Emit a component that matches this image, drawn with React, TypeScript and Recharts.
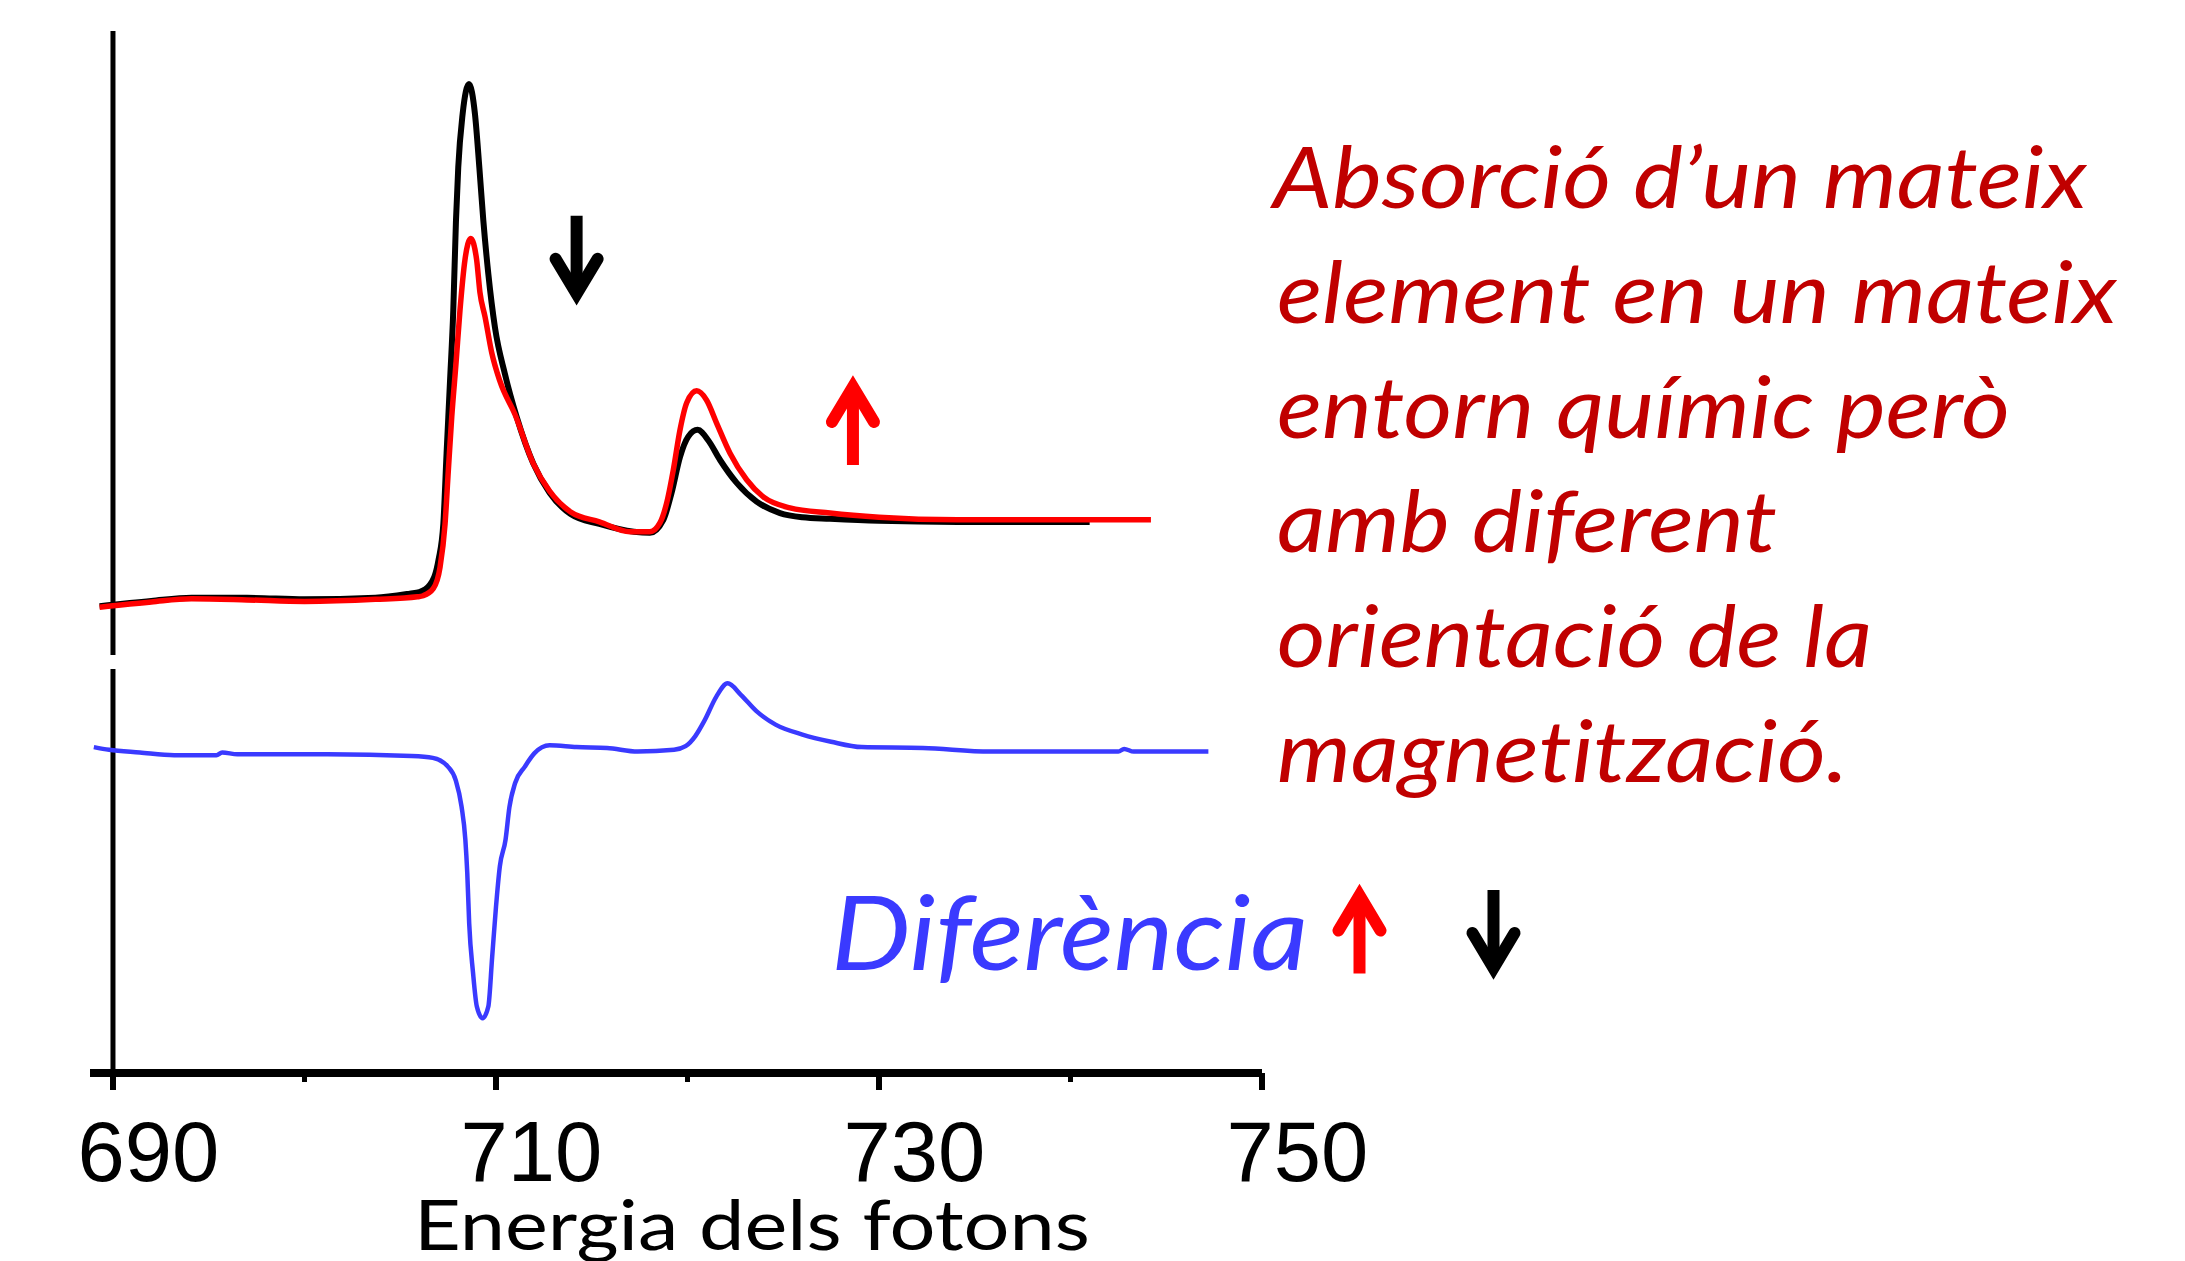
import React from 'react';
import { LineChart, Line, XAxis, YAxis, ReferenceLine, ReferenceDot } from 'recharts';

// ---------- data (photon energy in eV, absorption in arbitrary units) ----------
const blackEnergy = [689.3, 692.0, 694.1, 697.0, 700.0, 703.7, 705.5, 706.0, 706.55, 707.0, 707.25, 707.42, 707.6, 707.77, 707.91, 708.03, 708.26, 708.59, 708.9, 709.13, 709.34, 709.6, 709.95, 710.47, 711.08, 711.95, 712.8, 713.9, 715.4, 717.2, 718.04, 718.74, 719.17, 719.61, 720.04, 720.53, 721.08, 721.7, 722.57, 723.61, 724.83, 726.0, 727.44, 730.0, 734.1, 741.0];
const blackValues = [-0.006, 0.004, 0.010, 0.010, 0.007, 0.010, 0.018, 0.021, 0.035, 0.083, 0.152, 0.288, 0.427, 0.563, 0.735, 0.838, 0.941, 0.998, 0.941, 0.838, 0.735, 0.633, 0.529, 0.440, 0.358, 0.268, 0.212, 0.171, 0.152, 0.137, 0.135, 0.160, 0.212, 0.281, 0.320, 0.333, 0.313, 0.275, 0.231, 0.195, 0.173, 0.165, 0.162, 0.158, 0.156, 0.156];

const redEnergy = [689.3, 692.0, 694.1, 697.0, 700.0, 703.7, 705.9, 706.2, 706.73, 707.08, 707.34, 707.51, 707.69, 707.91, 708.12, 708.38, 708.68, 708.99, 709.16, 709.43, 709.78, 710.2, 711.0, 711.95, 712.8, 713.9, 715.4, 717.0, 718.04, 718.56, 718.91, 719.26, 719.61, 719.96, 720.48, 721.0, 721.52, 722.22, 723.09, 723.96, 725.35, 727.44, 730.0, 734.1, 744.2];
const redValues = [-0.008, 0.002, 0.008, 0.006, 0.003, 0.007, 0.012, 0.014, 0.028, 0.069, 0.152, 0.254, 0.358, 0.460, 0.563, 0.660, 0.701, 0.660, 0.598, 0.550, 0.481, 0.427, 0.362, 0.268, 0.215, 0.175, 0.156, 0.137, 0.137, 0.154, 0.192, 0.256, 0.333, 0.385, 0.408, 0.390, 0.346, 0.288, 0.237, 0.204, 0.183, 0.173, 0.165, 0.160, 0.160];

const diffEnergy = [689.0, 689.8, 691.4, 693.2, 695.4, 695.7, 696.5, 701.2, 705.6, 706.7, 707.5, 707.9, 708.2, 708.4, 708.5, 708.6, 708.8, 709.0, 709.3, 709.6, 709.8, 710.0, 710.2, 710.5, 710.7, 711.0, 711.5, 712.0, 712.8, 714.2, 715.8, 717.4, 719.3, 719.9, 720.4, 720.9, 721.5, 722.1, 722.8, 723.6, 724.6, 726.0, 727.5, 729.1, 732.3, 735.8, 742.5, 742.8, 743.3, 747.2];
const diffValues = [0.003, 0.000, -0.003, -0.006, -0.006, -0.003, -0.005, -0.005, -0.007, -0.009, -0.019, -0.034, -0.063, -0.100, -0.137, -0.193, -0.248, -0.286, -0.299, -0.286, -0.231, -0.175, -0.130, -0.100, -0.064, -0.037, -0.019, -0.004, 0.005, 0.003, 0.002, -0.002, 0.000, 0.004, 0.015, 0.033, 0.059, 0.074, 0.061, 0.043, 0.028, 0.017, 0.009, 0.003, 0.002, -0.002, -0.002, 0.001, -0.002, -0.002];

const xTicks = [690, 700, 710, 720, 730, 740, 750];
const majorTicks = [690, 710, 730, 750];
const xDomain: [number, number] = [688.8, 750];

const noteLines = ['Absorció d’un mateix', 'element en un mateix', 'entorn químic però', 'amb diferent', 'orientació de la', 'magnetització.'];
const diffLabel = 'Diferència';
const xTitle = 'Energia dels fotons';

// annotation arrows inside the spectra panel (data coordinates)
const spectraArrows = [
  { e: 714.21, v: 0.657, dir: 'down', color: '#000000' },
  { e: 728.64, v: 0.353, dir: 'up', color: '#FF0000' },
];

const toRows = (xs: number[], ys: number[]) => xs.map((e, i) => ({ e, v: ys[i] }));
const blackData = toRows(blackEnergy, blackValues);
const redData = toRows(redEnergy, redValues);
const diffData = toRows(diffEnergy, diffValues);

// ---------- layout ----------
const W = 2185;
const H = 1261;
const LEFT = 90;
const RIGHT = 923;
const BLUE = '#3A3AFF';
const DARKRED = '#C00000';
const NOTE_WIDTHS = [814, 840, 733, 500, 595, 571];

const Arrow = ({ cx, cy, dir, color }: { cx: number; cy: number; dir: string; color: string }) => {
  const L = 45.5;
  const s = dir === 'down' ? 1 : -1;
  const tipBase = cy + s * (L - 13);
  const barbY = cy + s * (L - 48);
  return (
    <g>
      <line x1={cx} x2={cx} y1={cy - s * L} y2={cy + s * (L - 16)} stroke={color} strokeWidth={12} />
      <polyline
        points={`${cx - 21},${barbY} ${cx},${tipBase} ${cx + 21},${barbY}`}
        fill="none"
        stroke={color}
        strokeWidth={12}
        strokeLinecap="round"
        strokeLinejoin="miter"
      />
    </g>
  );
};

const XTick = (props: any) => {
  const { x, y, payload } = props;
  const v = payload.value;
  const major = majorTicks.includes(v);
  return (
    <g>
      <line x1={x} x2={x} y1={y} y2={y + (major ? 17 : 9)} stroke="#000" strokeWidth={major ? 6 : 5} />
      {major && (
        <text x={x + 35.5} y={y + 108} textAnchor="middle" fontFamily="'Liberation Sans', Arial, sans-serif" fontSize={85} fill="#000">
          {v}
        </text>
      )}
    </g>
  );
};

const textStyle = { fontVariantLigatures: 'none' as const };

export default function App() {
  return (
    <div style={{ position: 'absolute', left: 0, top: 0, width: W, height: H, background: '#fff', overflow: 'hidden' }}>
      {/* spectra panel */}
      <div style={{ position: 'absolute', left: 0, top: 0 }}>
        <LineChart width={W} height={670} margin={{ top: 31, right: RIGHT, bottom: 15, left: LEFT }}>
          <XAxis type="number" dataKey="e" domain={xDomain} allowDataOverflow hide />
          <YAxis type="number" domain={[-0.1, 1.1]} allowDataOverflow hide />
          <ReferenceLine x={690} stroke="#000" strokeWidth={5} />
          <Line data={blackData} dataKey="v" type="monotone" stroke="#000000" strokeWidth={6} dot={false} isAnimationActive={false} />
          <Line data={redData} dataKey="v" type="monotone" stroke="#FF0000" strokeWidth={5.5} dot={false} isAnimationActive={false} />
          {spectraArrows.map((a, i) => (
            <ReferenceDot
              key={i}
              x={a.e}
              y={a.v}
              r={0}
              ifOverflow="visible"
              shape={(p: any) => <Arrow cx={p.cx} cy={p.cy} dir={a.dir} color={a.color} />}
            />
          ))}
        </LineChart>
      </div>
      {/* difference panel */}
      <div style={{ position: 'absolute', left: 0, top: 655 }}>
        <LineChart width={W} height={606} margin={{ top: 14, right: RIGHT, bottom: 0, left: LEFT }}>
          <XAxis
            type="number"
            dataKey="e"
            domain={xDomain}
            allowDataOverflow
            ticks={xTicks}
            interval={0}
            tickSize={0}
            tickMargin={0}
            tickLine={false}
            axisLine={{ stroke: '#000', strokeWidth: 8 }}
            tick={(p: any) => <XTick {...p} />}
            height={188}
          />
          <YAxis type="number" domain={[-0.36, 0.09]} allowDataOverflow hide />
          <ReferenceLine x={690} stroke="#000" strokeWidth={5} />
          <Line data={diffData} dataKey="v" type="monotone" stroke={BLUE} strokeWidth={4.5} dot={false} isAnimationActive={false} />
        </LineChart>
      </div>
      {/* texts */}
      <svg width={W} height={H} style={{ position: 'absolute', left: 0, top: 0, pointerEvents: 'none' }}>
        {noteLines.map((s, i) => (
          <text
            key={i}
            x={i === 0 ? 1273 : 1277}
            y={208 + i * 114.8}
            fontFamily="Lato, 'Open Sans', sans-serif"
            fontStyle="italic"
            fontSize={86}
            fill={DARKRED}
            textLength={NOTE_WIDTHS[i]}
            lengthAdjust="spacingAndGlyphs"
            style={textStyle}
          >
            {s}
          </text>
        ))}
        <text x={831} y={970} fontFamily="Lato, 'Open Sans', sans-serif" fontStyle="italic" fontSize={103} fill={BLUE} textLength={477} lengthAdjust="spacingAndGlyphs" style={textStyle}>
          {diffLabel}
        </text>
        <Arrow cx={1359.5} cy={928} dir="up" color="#FF0000" />
        <Arrow cx={1493.5} cy={935.5} dir="down" color="#000000" />
        <text x={414} y={1250} fontFamily="Lato, 'Open Sans', sans-serif" fontSize={70} fill="#000" textLength={676} lengthAdjust="spacingAndGlyphs" style={textStyle}>
          {xTitle}
        </text>
      </svg>
    </div>
  );
}
